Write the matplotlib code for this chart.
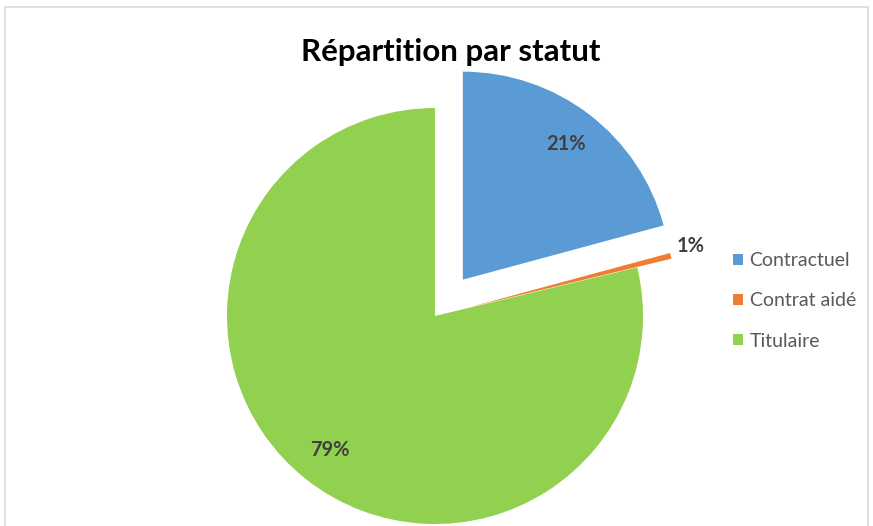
import matplotlib
matplotlib.use("Agg")
import matplotlib.pyplot as plt
from matplotlib.patches import Patch, Rectangle
import numpy as np

# Data
statuts = ["Contractuel", "Contrat aidé", "Titulaire"]
parts = [20.8, 0.45, 78.75]
etiquettes = ["21%", "1%", "79%"]
couleurs = ["#5B9BD5", "#ED7D31", "#92D050"]
eclatement = [0.22, 0.17, 0.0]

plt.rcParams["font.family"] = ["Lato", "DejaVu Sans"]

W, H = 873, 526
fig = plt.figure(figsize=(W / 100, H / 100), dpi=100)

# light grey chart frame
fig.patches.append(Rectangle((5 / W, -0.01), 863 / W, 1 - 7 / H + 0.01,
                             transform=fig.transFigure, fill=False,
                             edgecolor="#D9D9D9", linewidth=1.2))

cx, cy, r = 435, H - 316, 208
ax = fig.add_axes([(cx - r) / W, (cy - r) / H, 2 * r / W, 2 * r / H])
wedges, _ = ax.pie(parts, colors=couleurs, explode=eclatement, startangle=90,
                   counterclock=False, radius=1.0,
                   wedgeprops=dict(linewidth=0))
for w in wedges:
    w.set_clip_on(False)
ax.set_xlim(-1, 1)
ax.set_ylim(-1, 1)
ax.set_aspect("equal")
ax.axis("off")

for i, (w, lab) in enumerate(zip(wedges, etiquettes)):
    ang = np.deg2rad((w.theta1 + w.theta2) / 2)
    ox, oy = w.center
    if i == 1:
        # small slice: label just outside its tip
        x = ox + 1.03 * np.cos(ang)
        y = oy + 1.03 * np.sin(ang) + 0.04
        ha = "left"
    else:
        x = ox + 0.82 * np.cos(ang)
        y = oy + 0.82 * np.sin(ang)
        ha = "center"
    ax.text(x, y, lab, ha=ha, va="center", fontsize=14.5,
            fontweight="bold", color="#404040", clip_on=False)

fig.text(451 / W, 1 - 52 / H, "Répartition par statut", ha="center",
         va="center", fontsize=22.5, fontweight="bold", color="black")

handles = [Patch(facecolor=c, edgecolor="none") for c in couleurs]
fig.legend(handles, statuts, loc="center left",
           bbox_to_anchor=(733 / W, 1 - 301 / H), frameon=False,
           borderaxespad=0, borderpad=0,
           fontsize=14, labelcolor="#595959", handlelength=0.5,
           handleheight=0.5, handletextpad=0.35, labelspacing=1.2)

fig.savefig("out.png", dpi=100, facecolor="white")
